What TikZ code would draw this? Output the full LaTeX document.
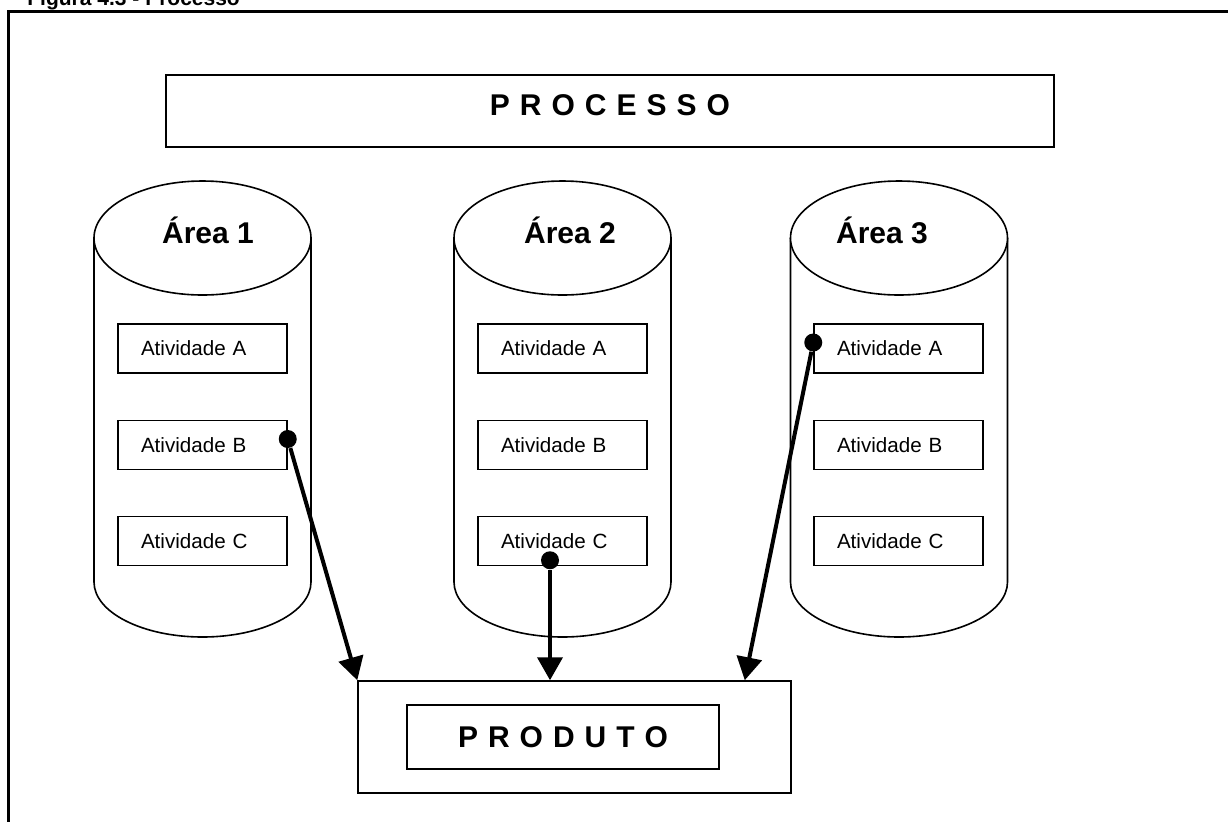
\documentclass[tikz,border=0pt]{standalone}
\usepackage{fontspec}
\setmainfont{Liberation Sans}
\usetikzlibrary{arrows.meta}

\begin{document}
\begin{tikzpicture}[x=0.5pt,y=0.5pt,>={Triangle[length=11.5pt,width=12.5pt]}]
  \tikzset{atividade/.style={draw,fill=white,line width=0.75pt,minimum height=24.5pt,text width=61.5pt,inner xsep=11.5pt,inner ysep=0pt,align=left,font=\fontsize{10.3}{12}\selectfont}}
  \tikzset{area/.style={anchor=base,inner sep=0pt,font=\bfseries\fontsize{15}{18}\selectfont}}
  \tikzset{caixa/.style={draw,line width=0.75pt,inner sep=0pt}}
  \tikzset{espacado/.style={font=\bfseries\fontsize{15}{18}\selectfont,execute at begin node={\spaceskip=5pt\relax}}}
  \tikzset{cilindro/.style={draw,fill=white,line width=0.8pt}}
  \tikzset{ponto/.style={circle,fill,inner sep=0pt,minimum size=9pt}}
  \useasboundingbox (0,0) rectangle (1228,-821);
  \clip (0,0) rectangle (1228,-821);
  \draw[line width=1.5pt] (8.5,-11.5) rectangle (1250,-850);
  \node[anchor=base west,inner sep=0pt,font=\bfseries\fontsize{10.5}{12}\selectfont] (titulo) at (27,-5) {Figura 4.3 - Processo};
  \node[caixa,espacado,line width=1pt,minimum width=444pt,minimum height=36pt,text depth=6pt] (processo) at (610,-111) {P R O C E S S O};
  % areas
  \draw[cilindro] (94,-238) -- (94,-582) arc[start angle=180,end angle=360,x radius=54.25pt,y radius=27.5pt] -- (311,-238);
  \draw[cilindro] (202.5,-238) ellipse[x radius=54.25pt,y radius=28.5pt];
  \draw[cilindro] (454,-238) -- (454,-582) arc[start angle=180,end angle=360,x radius=54.25pt,y radius=27.5pt] -- (671,-238);
  \draw[cilindro] (562.5,-238) ellipse[x radius=54.25pt,y radius=28.5pt];
  \draw[cilindro] (790.5,-238) -- (790.5,-582) arc[start angle=180,end angle=360,x radius=54.25pt,y radius=27.5pt] -- (1007.5,-238);
  \draw[cilindro] (899,-238) ellipse[x radius=54.25pt,y radius=28.5pt];
  \node[area] (area1) at (208,-243) {Área 1};
  \node[area] (area2) at (570,-243) {Área 2};
  \node[area] (area3) at (882,-243) {Área 3};
  \node[atividade] (a1) at (202.5,-348.5) {Atividade A};
  \node[atividade] (b1) at (202.5,-445) {Atividade B};
  \node[atividade] (c1) at (202.5,-541) {Atividade C};
  \node[atividade] (a2) at (562.5,-348.5) {Atividade A};
  \node[atividade] (b2) at (562.5,-445) {Atividade B};
  \node[atividade] (c2) at (562.5,-541) {Atividade C};
  \node[atividade] (a3) at (898.5,-348.5) {Atividade A};
  \node[atividade] (b3) at (898.5,-445) {Atividade B};
  \node[atividade] (c3) at (898.5,-541) {Atividade C};
  % produto
  \node[caixa,minimum width=216.5pt,minimum height=56pt] (produto) at (574.5,-737) {};
  \node[caixa,espacado,minimum width=156pt,minimum height=32pt] (nome) at (563,-737) {P R O D U T O};
  \node[ponto] (p1) at ([yshift=3pt]b1.east) {};
  \node[ponto] (p2) at ([xshift=-6.25pt,yshift=3pt]c2.south) {};
  \node[ponto] (p3) at ([yshift=3pt]a3.west) {};
  \path[->,line width=2pt] (p1) edge (produto.north west);
  \path[->,line width=2pt] (p2) edge (p2 |- produto.north);
  \path[->,line width=2pt] (p3) edge ([xshift=-23.5pt]produto.north east);
\end{tikzpicture}
\end{document}
